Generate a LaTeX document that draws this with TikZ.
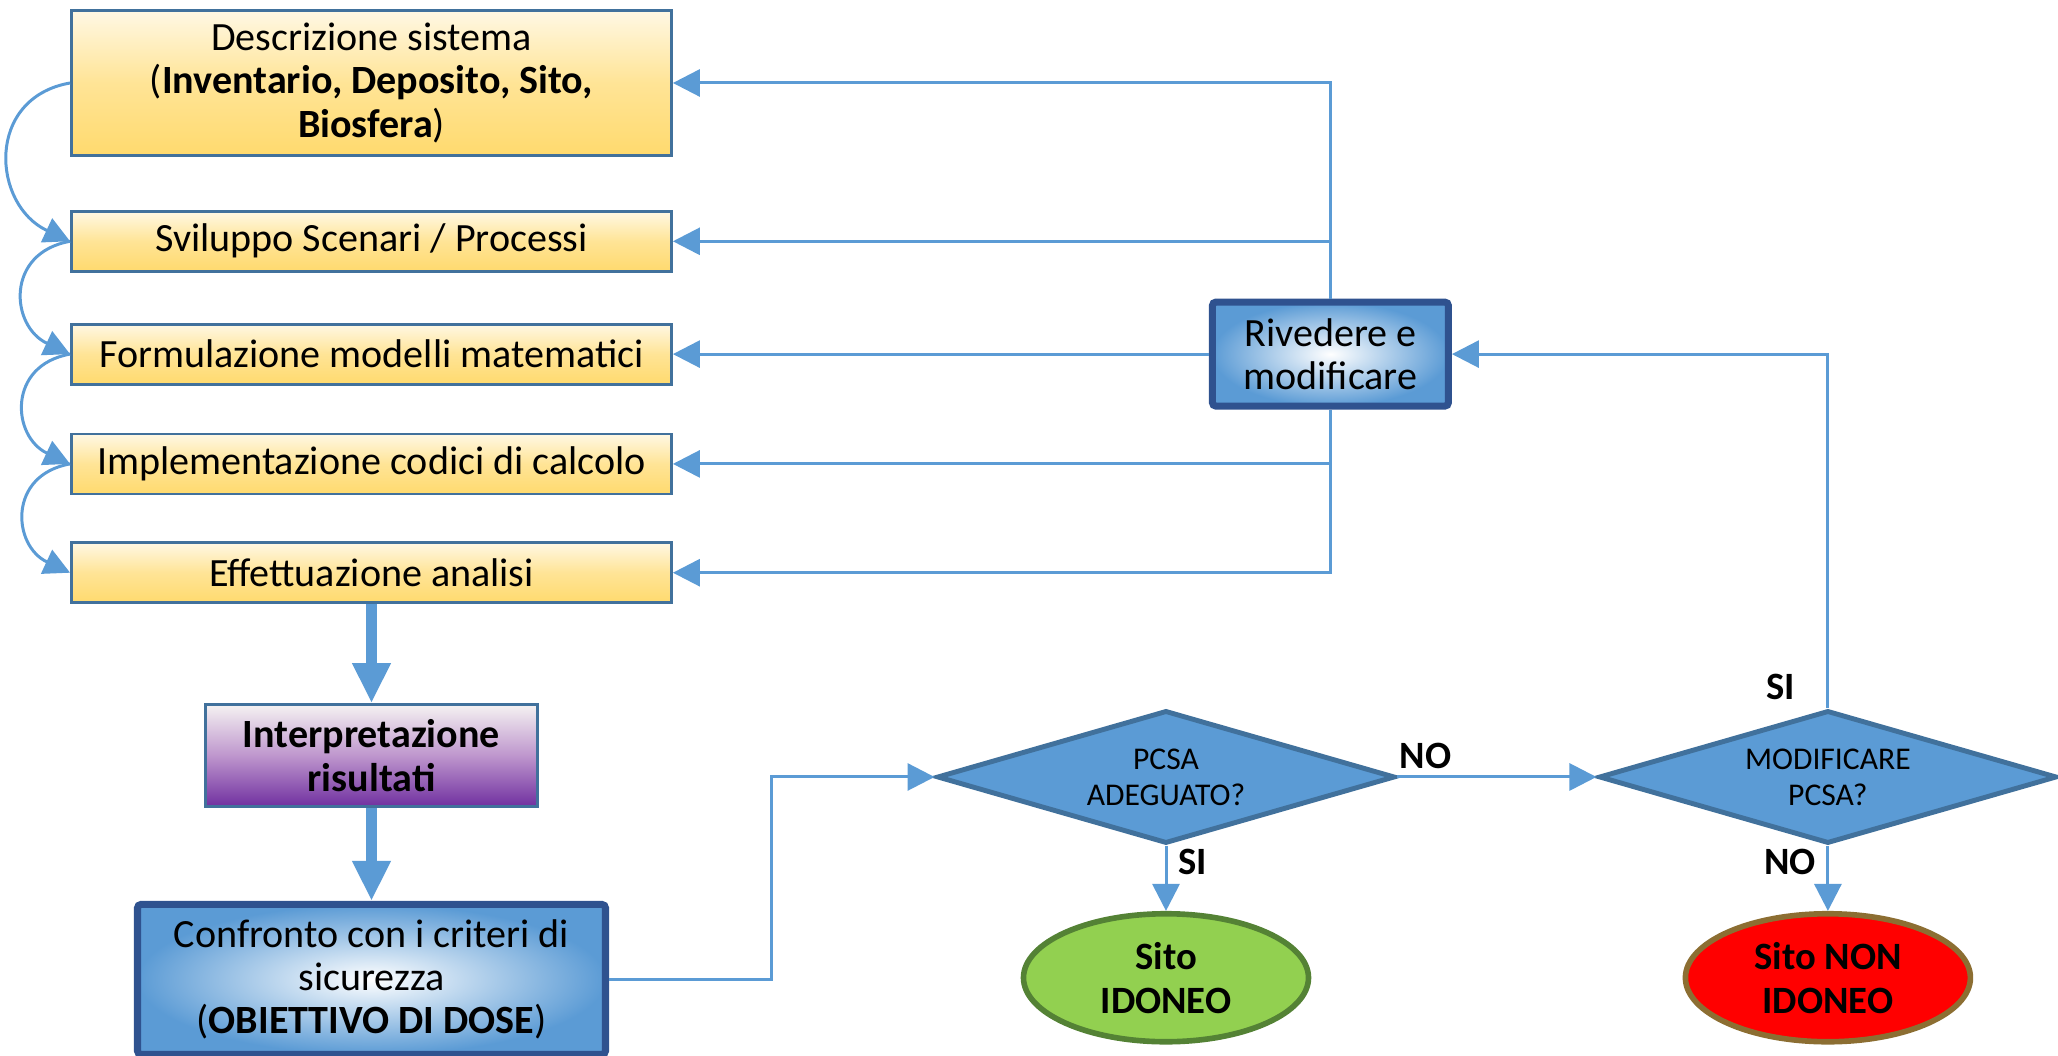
\documentclass[tikz,border=0pt]{standalone}
\usepackage{fontspec}
\setmainfont{Carlito}
\usepackage{tikz}
\usetikzlibrary{arrows.meta, positioning}
\usetikzlibrary{shapes.geometric, calc}

\definecolor{lineblue}{RGB}{91,155,213}
\definecolor{edgeblue}{RGB}{65,113,156}
\definecolor{darkblue}{RGB}{47,82,143}
\definecolor{goldtop}{RGB}{255,248,228}
\definecolor{goldmid}{RGB}{255,228,150}
\definecolor{goldbot}{RGB}{255,218,110}
\definecolor{lilactop}{RGB}{245,242,242}
\definecolor{lilacmid}{RGB}{190,150,205}
\definecolor{purplebot}{RGB}{112,48,160}
\definecolor{greenfill}{RGB}{146,208,80}
\definecolor{greenedge}{RGB}{84,130,53}
\definecolor{redfill}{RGB}{255,0,0}
\definecolor{rededge}{RGB}{140,110,50}

\begin{document}
\begin{tikzpicture}[x=0.1mm, y=0.1mm, node distance=5mm,
    phase box/.style={draw=edgeblue, line width=0.8pt, top color=goldtop, bottom color=goldbot, middle color=goldmid,
        minimum width=60mm, minimum height=6mm, inner sep=1pt, align=center, font=\fontsize{11.4}{12.4}\selectfont},
    result box/.style={draw=edgeblue, line width=0.8pt, top color=lilactop, bottom color=purplebot, middle color=lilacmid,
        minimum width=33.2mm, minimum height=10.2mm, inner sep=1pt, align=center, font=\bfseries\fontsize{11.4}{12.6}\selectfont},
    blue box/.style={draw=darkblue, line width=2pt, rounded corners=1pt, inner color=white, outer color=lineblue,
        inner sep=1pt, align=center, font=\fontsize{11.4}{12.2}\selectfont},
    choice/.style={diamond, aspect=3.4, draw=edgeblue, line width=1.4pt, fill=lineblue, minimum width=45.8mm,
        minimum height=13.3mm, inner sep=0pt, align=center, font=\fontsize{9}{10.2}\selectfont},
    outcome/.style={ellipse, line width=1.6pt, minimum width=28.5mm, minimum height=12.8mm, inner sep=0pt,
        align=center, font=\bfseries\fontsize{11}{12.6}\selectfont},
    lbl/.style={text=black, font=\bfseries\fontsize{11}{13}\selectfont, inner sep=1pt},
    flow/.style={color=lineblue, line width=0.85pt, -{Triangle[width=2.7mm,length=2.7mm]}},
    bigflow/.style={color=lineblue, line width=1.1mm, -{Triangle[width=3.6mm,length=4mm]}},
    curve/.style={color=lineblue, line width=0.85pt, -{Triangle[width=2.6mm,length=2.6mm]}}]

    \useasboundingbox (0,0) rectangle (2058,1056);

    % left column
    \node[phase box, minimum height=14.5mm] (b1) at (371.5,973) {Descrizione sistema\\(\textbf{Inventario, Deposito, Sito,}\\\textbf{Biosfera})};
    \node[phase box] (b2) [below=5.3mm of b1] {Sviluppo Scenari / Processi};
    \node[phase box] (b3) [below=5mm of b2] {Formulazione modelli matematici};
    \node[phase box] (b4) [below=4.7mm of b3] {Implementazione codici di calcolo};
    \node[phase box] (b5) [below=4.6mm of b4] {Effettuazione analisi};
    \node[result box] (interp) [below=9.9mm of b5] {Interpretazione\\risultati};
    \node[blue box, minimum width=46.8mm, minimum height=15mm] (conf) [below=9.3mm of interp] {Confronto con i criteri di\\sicurezza\\(\textbf{OBIETTIVO DI DOSE})};

    % feedback and decisions
    \node[blue box, minimum width=23.6mm, minimum height=10.4mm] (riv) [right=53.6mm of b3] {Rivedere e\\modificare};
    \node[choice] (d1) at (1166,279) {PCSA\\ADEGUATO?};
    \node[choice] (d2) [right=19.9mm of d1] {MODIFICARE\\PCSA?};
    \node[outcome, draw=greenedge, fill=greenfill] (ok) [below=6.5mm of d1] {Sito\\IDONEO};
    \node[outcome, draw=rededge, fill=redfill] (nok) [below=6.5mm of d2] {Sito NON\\IDONEO};

    \path[curve]
    (b1.west) edge[out=190, in=155, looseness=1.4] (b2.west)
    (b2.west) edge[out=190, in=155, looseness=1.5] (b3.west)
    (b3.west) edge[out=190, in=155, looseness=1.5] (b4.west)
    (b4.west) edge[out=190, in=155, looseness=1.5] (b5.west);

    \draw[bigflow] (b5) -- (interp);
    \draw[bigflow] (interp) -- (conf);

    \draw[flow] (riv.north) |- (b1.east);
    \draw[flow] (riv.north) |- (b2.east);
    \draw[flow] (riv.west) -- (b3.east);
    \draw[flow] (riv.south) |- (b4.east);
    \draw[flow] (riv.south) |- (b5.east);

    \draw[flow] (conf.east) -| ($(conf.east)!0.5!(d1.west)$) |- (d1.west);
    \draw[flow] (d1.east) -- node[lbl, pos=0.14, above=1pt] (no1) {NO} (d2.west);
    \draw[flow] (d1.south) -- node[lbl, pos=0.25, right=2pt] (si1) {SI} (ok.north);
    \draw[flow] (d2.south) -- node[lbl, pos=0.25, left=2pt] (no2) {NO} (nok.north);
    \draw[flow] (d2.north) |- node[lbl, pos=0.03, left=8pt] (si2) {SI} (riv.east);
\end{tikzpicture}
\end{document}
